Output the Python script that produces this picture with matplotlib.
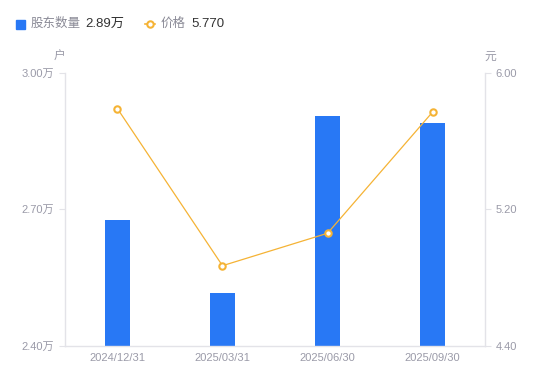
import matplotlib.pyplot as plt
import numpy as np

plt.rcParams['font.family'] = ['Liberation Sans', 'Noto Sans CJK SC', 'DejaVu Sans']

dates = ['2024/12/31', '2025/03/31', '2025/06/30', '2025/09/30']
holders = [2.677, 2.516, 2.905, 2.890]   # 万户
price = [5.79, 4.87, 5.06, 5.77]

left_ticks = [2.40, 2.70, 3.00]
right_ticks = [4.40, 5.20, 6.00]

bar_color = '#2878f5'
line_color = '#f5b335'
tick_gray = '#9a9aa8'
axis_gray = '#e3e3e8'

fig = plt.figure(figsize=(5.5, 3.81), dpi=100)
ax = fig.add_axes([0.118, 0.092, 0.764, 0.717])
x = np.arange(len(dates))

ax.bar(x, holders, width=0.235, color=bar_color, zorder=2)
ax.set_xlim(-0.5, len(dates) - 0.5)
ax.set_ylim(left_ticks[0], left_ticks[-1])
ax.set_yticks(left_ticks)
ax.set_yticklabels([f'{v:.2f}万' for v in left_ticks])
ax.set_xticks(x)
ax.set_xticklabels(dates)

ax2 = ax.twinx()
ax2.plot(x, price, color=line_color, lw=0.9, marker='o', ms=4.6,
         mfc='white', mec=line_color, mew=1.5, zorder=3)
ax2.set_ylim(right_ticks[0], right_ticks[-1])
ax2.set_yticks(right_ticks)
ax2.set_yticklabels([f'{v:.2f}' for v in right_ticks])

for a in (ax, ax2):
    a.spines['top'].set_visible(False)
    for s in ('left', 'right', 'bottom'):
        a.spines[s].set_color(axis_gray)
        a.spines[s].set_linewidth(1)
    a.tick_params(colors=tick_gray, labelsize=8, length=4, width=0.8)
    a.tick_params(axis='y', color=axis_gray)
ax.tick_params(axis='x', length=0, pad=5)
ax2.spines['left'].set_visible(False)
ax.spines['right'].set_visible(False)
ax2.spines['bottom'].set_visible(False)

# units
fig.text(60 / 550, 1 - 57 / 381, '户', color=tick_gray, fontsize=8.5, ha='center', va='center')
fig.text(490 / 550, 1 - 57 / 381, '元', color=tick_gray, fontsize=8.5, ha='center', va='center')

# legend
ly = 1 - 24 / 381
fig.patches.append(plt.Rectangle((16 / 550, 1 - 29 / 381), 9 / 550, 9 / 381,
                                 transform=fig.transFigure, color=bar_color))
fig.text(31 / 550, ly, '股东数量', color='#8a8a96', fontsize=9, va='center')
fig.text(85 / 550, ly, f'{holders[-1]:.2f}万', color='#333333', fontsize=9.5, va='center')
fig.lines.append(plt.Line2D([145 / 550, 155 / 550], [ly, ly], transform=fig.transFigure,
                            color=line_color, lw=1.2, zorder=1))
fig.lines.append(plt.Line2D([150 / 550], [ly], transform=fig.transFigure,
                            color=line_color, marker='o', ms=4.6, mfc='white',
                            mec=line_color, mew=1.5, zorder=2))
fig.text(161 / 550, ly, '价格', color='#8a8a96', fontsize=9, va='center')
fig.text(191 / 550, ly, f'{price[-1]:.3f}', color='#333333', fontsize=9.5, va='center')

fig.savefig('out.png', dpi=100)
